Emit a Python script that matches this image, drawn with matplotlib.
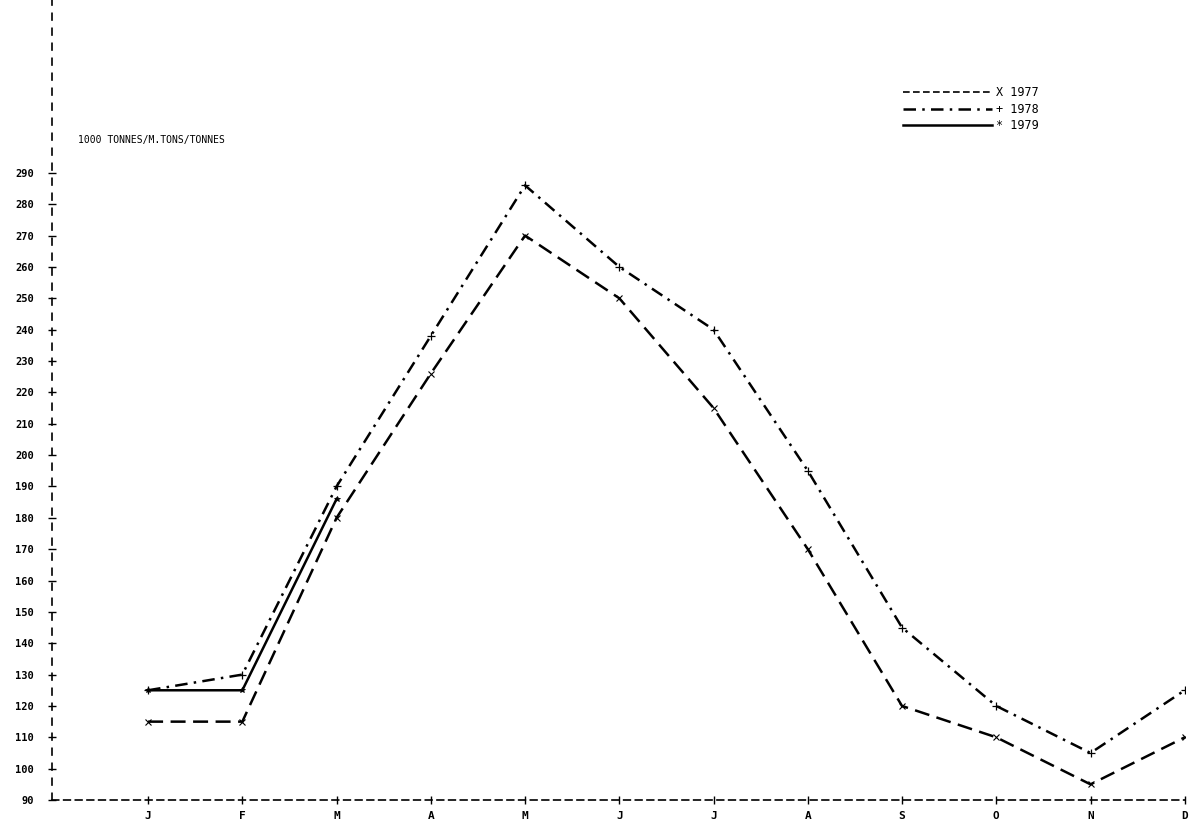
import numpy as np
import matplotlib.pyplot as plt
from matplotlib.lines import Line2D

# ---------------------------
# データ
# ---------------------------
months = ["J", "F", "M", "A", "M", "J", "J", "A", "S", "O", "N", "D"]
y_ticks = list(range(90, 300, 10))

v1977 = [115, 115, 180, 226, 270, 250, 215, 170, 120, 110, 95, 110]
v1978 = [125, 130, 190, 238, 286, 260, 240, 195, 145, 120, 105, 125]
v1979 = [125, 125, 186]

unit_label = "1000 TONNES/M.TONS/TONNES"
mono = "DejaVu Sans Mono"

# ---------------------------
# Plot
# ---------------------------
fig = plt.figure(figsize=(12, 8.27), dpi=100)
ax = fig.add_axes([0.0433, 0.0326, 0.944, 0.967])

x = np.arange(len(months))
ax.plot(x, v1977, color="black", lw=1.8, linestyle=(0, (6, 3)),
        marker="x", ms=5, mew=0.8)
ax.plot(x, v1978, color="black", lw=1.8, linestyle=(0, (5, 2.5, 1, 2.5)),
        marker="+", ms=6, mew=0.9)
ax.plot(x[:len(v1979)], v1979, color="black", lw=1.8, linestyle="-",
        marker="*", ms=4, mew=0.6)

ax.set_xlim(-1.02, 11.0)
ax.set_ylim(90, 345)

# 軸（点線風）
for s in ["top", "right"]:
    ax.spines[s].set_visible(False)
ax.spines["left"].set_linestyle((0, (4, 5)))
ax.spines["bottom"].set_linestyle((0, (4, 3)))
for s in ["left", "bottom"]:
    ax.spines[s].set_linewidth(1.2)

ax.set_xticks(x)
ax.set_xticklabels(months, fontfamily=mono, fontsize=8, fontweight="bold")
ax.set_yticks(y_ticks)
ax.set_yticklabels([str(v) for v in y_ticks], fontfamily=mono, fontsize=7.5,
                   fontweight="bold")
ax.tick_params(axis="both", direction="inout", length=6, width=1)
ax.tick_params(axis="y", pad=10)
ax.tick_params(axis="x", pad=5)

ax.text(0.023, 0.825, unit_label, transform=ax.transAxes, fontfamily=mono,
        fontsize=7, va="center", ha="left")

# 凡例
handles = [
    Line2D([], [], color="black", lw=1.2, linestyle=(0, (4, 2))),
    Line2D([], [], color="black", lw=1.8, linestyle=(0, (5, 2.5, 1, 2.5))),
    Line2D([], [], color="black", lw=1.8, linestyle="-"),
]
labels = ["X 1977", "+ 1978", "* 1979"]
ax.legend(handles, labels, loc="upper left", bbox_to_anchor=(0.742, 0.906),
          frameon=False, handlelength=7.5, handletextpad=0.4, labelspacing=0.3,
          prop={"family": mono, "size": 8.5})

fig.savefig("out.png", dpi=100, facecolor="white")
